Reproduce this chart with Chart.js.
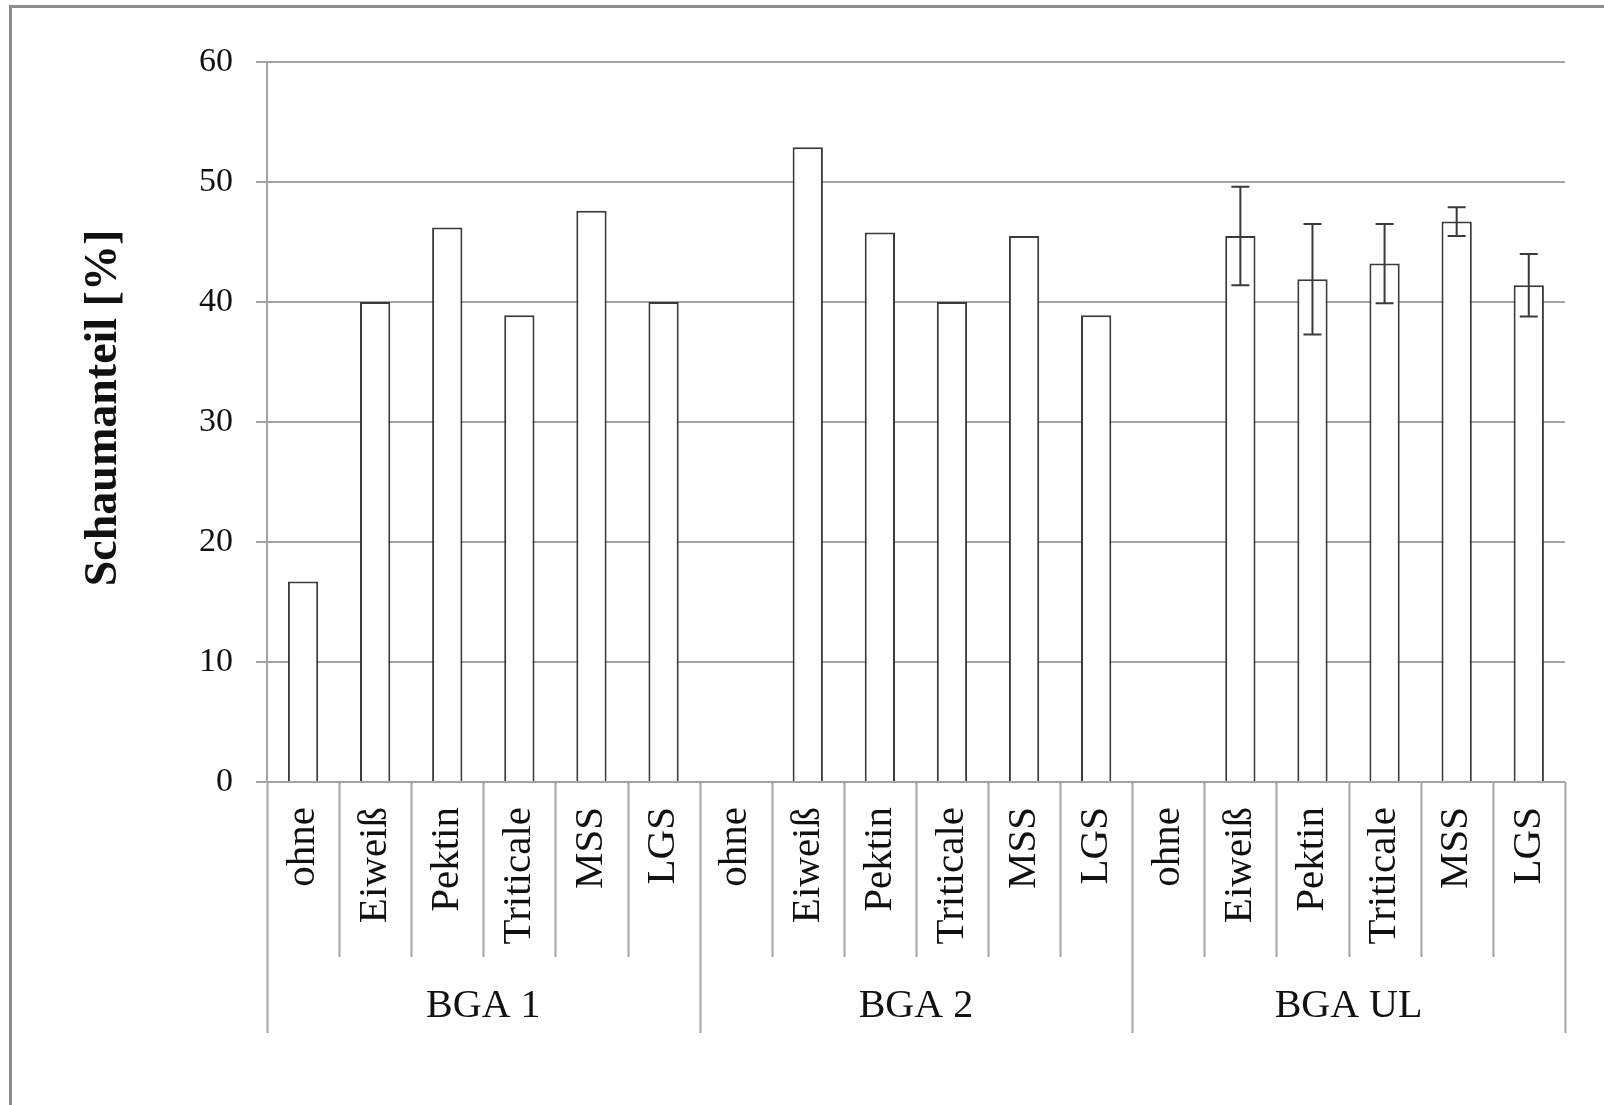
<!DOCTYPE html>
<html>
<head>
<meta charset="utf-8">
<title>Schaumanteil</title>
<script src="https://cdn.jsdelivr.net/npm/chart.js@4.4.1/dist/chart.umd.min.js"></script>
<style>
  html, body { margin: 0; padding: 0; background: #fff; }
  #chart { display: block; }
</style>
</head>
<body>
<canvas id="chart" width="1604" height="1105"></canvas>
<script>
// categories inside each plant group
const additives = ['ohne', 'Eiweiß', 'Pektin', 'Triticale', 'MSS', 'LGS'];
const groups = ['BGA 1', 'BGA 2', 'BGA UL'];

// foam share [%] per group (null = no bar)
const bga1 = [16.7, 40.0, 46.2, 38.9, 47.6, 40.0];
const bga2 = [null, 52.9, 45.8, 40.0, 45.5, 38.9];
const bgaUL = [null, 45.5, 41.9, 43.2, 46.7, 41.4];
// standard deviation, only measured for BGA UL
const errUL = [null, 4.1, 4.6, 3.3, 1.2, 2.6];

const yTicks = [0, 10, 20, 30, 40, 50, 60];

const labels = [].concat(additives, additives, additives);
const values = [].concat(bga1, bga2, bgaUL);
const errors = [].concat(additives.map(() => null), additives.map(() => null), errUL);

const FONT = '"Liberation Serif", "Times New Roman", serif';
const GRID = '#a3a3a3';
const INK = '#3a3a3a';

// thin frame (only top and left edge are visible in the original)
const framePlugin = {
  id: 'frame',
  beforeDraw(chart) {
    const ctx = chart.ctx;
    ctx.save();
    ctx.fillStyle = '#fff';
    ctx.fillRect(0, 0, chart.width, chart.height);
    ctx.strokeStyle = '#8c8c8c';
    ctx.lineWidth = 3;
    ctx.beginPath();
    ctx.moveTo(10.5, chart.height);
    ctx.lineTo(10.5, 6.5);
    ctx.lineTo(chart.width, 6.5);
    ctx.stroke();
    ctx.restore();
  }
};

// error bars drawn through the y scale
const errorBarPlugin = {
  id: 'errorBars',
  afterDatasetsDraw(chart) {
    const ctx = chart.ctx;
    const y = chart.scales.y;
    const meta = chart.getDatasetMeta(0);
    ctx.save();
    ctx.strokeStyle = INK;
    ctx.lineWidth = 2;
    errors.forEach((e, i) => {
      if (e == null || values[i] == null) return;
      const x = meta.data[i].x;
      const top = y.getPixelForValue(values[i] + e);
      const bot = y.getPixelForValue(values[i] - e);
      ctx.beginPath();
      ctx.moveTo(x, top); ctx.lineTo(x, bot);
      ctx.moveTo(x - 9, top); ctx.lineTo(x + 9, top);
      ctx.moveTo(x - 9, bot); ctx.lineTo(x + 9, bot);
      ctx.stroke();
    });
    ctx.restore();
  }
};

// two-level category axis: separators and group names
const groupAxisPlugin = {
  id: 'groupAxis',
  afterDraw(chart) {
    const ctx = chart.ctx;
    const xs = chart.scales.x;
    const area = chart.chartArea;
    const n = labels.length;
    const edge = (i) => {
      if (i <= 0) return area.left;
      if (i >= n) return area.right;
      return (xs.getPixelForValue(i - 1) + xs.getPixelForValue(i)) / 2;
    };
    ctx.save();
    ctx.strokeStyle = GRID;
    ctx.lineWidth = 2;
    for (let i = 0; i <= n; i++) {
      const x = Math.round(edge(i)) + 0.5;
      const long = i % additives.length === 0;
      ctx.beginPath();
      ctx.moveTo(x, area.bottom);
      ctx.lineTo(x, area.bottom + (long ? 251 : 175));
      ctx.stroke();
    }
    ctx.fillStyle = '#111';
    ctx.font = '40px ' + FONT;
    ctx.textAlign = 'center';
    ctx.textBaseline = 'middle';
    groups.forEach((g, k) => {
      const cx = (edge(k * additives.length) + edge((k + 1) * additives.length)) / 2;
      ctx.fillText(g, cx, area.bottom + 224);
    });
    // y axis title
    ctx.translate(104, 408);
    ctx.rotate(-Math.PI / 2);
    ctx.font = 'bold 46px ' + FONT;
    ctx.fillText('Schaumanteil [%]', 0, 0);
    ctx.restore();
  }
};

new Chart(document.getElementById('chart'), {
  type: 'bar',
  data: {
    labels: labels,
    datasets: [{
      data: values,
      backgroundColor: '#ffffff',
      borderColor: INK,
      borderWidth: 2,
      barPercentage: 0.42,
      categoryPercentage: 1.0
    }]
  },
  options: {
    responsive: false,
    animation: false,
    layout: { padding: { top: 62, right: 37, left: 0, bottom: 0 } },
    plugins: {
      legend: { display: false },
      tooltip: { enabled: false }
    },
    scales: {
      x: {
        grid: { display: false, drawTicks: false },
        border: { display: true, color: GRID, width: 2 },
        ticks: {
          autoSkip: false,
          minRotation: 90,
          maxRotation: 90,
          padding: 25,
          color: '#111',
          font: { family: FONT, size: 41 }
        },
        afterFit(scale) { scale.height = 323; }
      },
      y: {
        min: 0,
        max: 60,
        afterBuildTicks(scale) { scale.ticks = yTicks.map(v => ({ value: v })); },
        grid: { color: GRID, lineWidth: 2, tickLength: 11 },
        border: { display: true, color: GRID, width: 2 },
        ticks: {
          padding: 23,
          color: '#111',
          font: { family: FONT, size: 34 }
        },
        afterFit(scale) { scale.width = 267; }
      }
    }
  },
  plugins: [framePlugin, errorBarPlugin, groupAxisPlugin]
});
</script>
</body>
</html>
